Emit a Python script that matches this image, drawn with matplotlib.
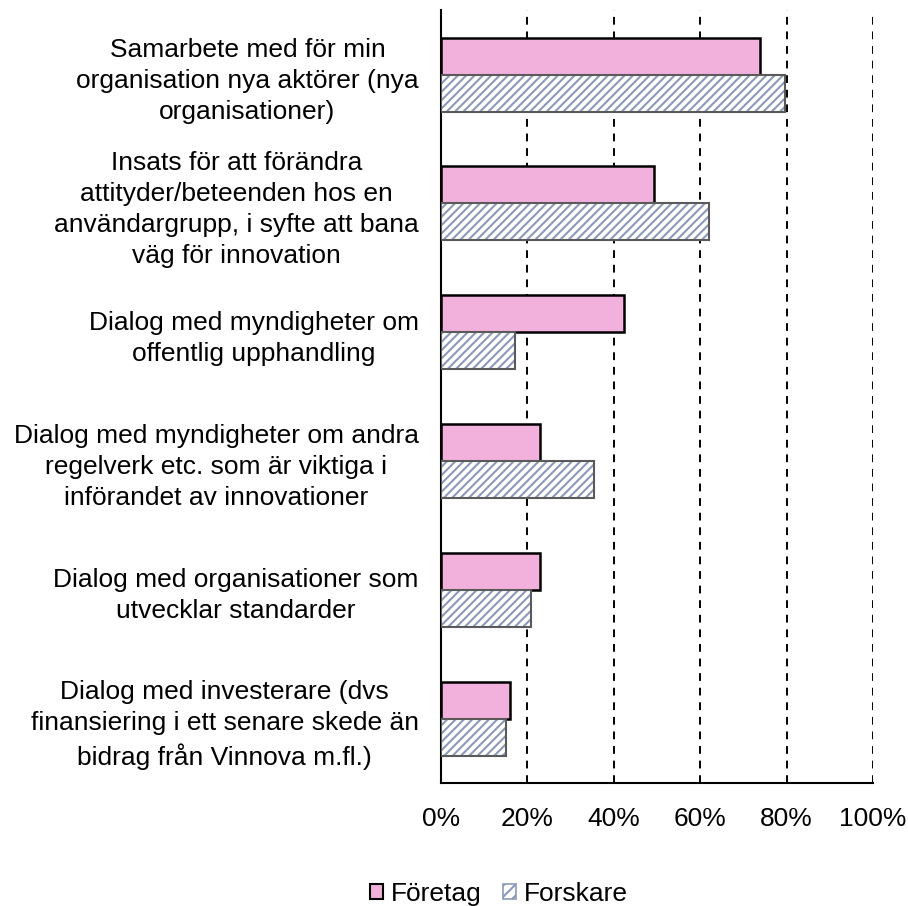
import matplotlib.pyplot as plt
import numpy as np
from matplotlib.patches import Patch
from matplotlib.ticker import PercentFormatter

plt.rcParams['font.family'] = ['Liberation Sans', 'DejaVu Sans']
plt.rcParams['hatch.linewidth'] = 1.5

categories = [
    "Samarbete med för min\norganisation nya aktörer (nya\norganisationer)",
    "Insats för att förändra\nattityder/beteenden hos en\nanvändargrupp, i syfte att bana\nväg för innovation",
    "Dialog med myndigheter om\noffentlig upphandling",
    "Dialog med myndigheter om andra\nregelverk etc. som är viktiga i\ninförandet av innovationer",
    "Dialog med organisationer som\nutvecklar standarder",
    "Dialog med investerare (dvs\nfinansiering i ett senare skede än\nbidrag från Vinnova m.fl.)",
]
foretag = [73.8, 49.3, 42.4, 22.9, 22.9, 16.0]
forskare = [79.7, 62.0, 17.1, 35.4, 20.8, 15.0]

PINK = '#F2B0DC'
STRIPE = '#8C9AB8'
EDGE_GRAY = '#5A5A5A'

fig = plt.figure(figsize=(9.08, 9.06), dpi=100)
ax = fig.add_axes([0.4857, 0.1358, 0.4758, 0.853])

y = np.arange(len(categories))
h = 0.287

ax.barh(y - h / 2, foretag, height=h, color=PINK, edgecolor='black', linewidth=1.8, zorder=3)
# hatched fill first, then a plain gray outline on top
ax.barh(y + h / 2, forskare, height=h, color='white', edgecolor=STRIPE, hatch='////',
        linewidth=0, zorder=3)
ax.barh(y + h / 2, forskare, height=h, fill=False, edgecolor=EDGE_GRAY, linewidth=1.5, zorder=4)

ax.set_xlim(0, 100)
ax.set_ylim(len(categories) - 0.5, -0.5)
ax.set_xticks(range(0, 101, 20))
ax.xaxis.set_major_formatter(PercentFormatter(decimals=0))
ax.set_yticks(y)
ax.set_yticklabels(categories, multialignment='center', linespacing=1.37)

ax.tick_params(axis='both', length=0, labelsize=19)
ax.tick_params(axis='y', pad=16)
ax.tick_params(axis='x', pad=17)

for x in range(20, 101, 20):
    ax.axvline(x, color='black', linestyle=(0, (4, 3.5)), linewidth=1.4, zorder=1)

for s in ['top', 'right']:
    ax.spines[s].set_visible(False)
ax.spines['left'].set_linewidth(1.5)
ax.spines['bottom'].set_linewidth(1.5)

handles = [
    Patch(facecolor=PINK, edgecolor='black', linewidth=1.5, label='Företag'),
    Patch(facecolor='white', edgecolor=STRIPE, hatch='///', linewidth=1.2, label='Forskare'),
]
fig.legend(handles=handles, loc='center', bbox_to_anchor=(0.5495, 0.013), ncol=2, frameon=False,
           fontsize=19, handlelength=0.5, handleheight=0.5, handletextpad=0.3, columnspacing=0.8)

fig.savefig('out.png', dpi=100)
